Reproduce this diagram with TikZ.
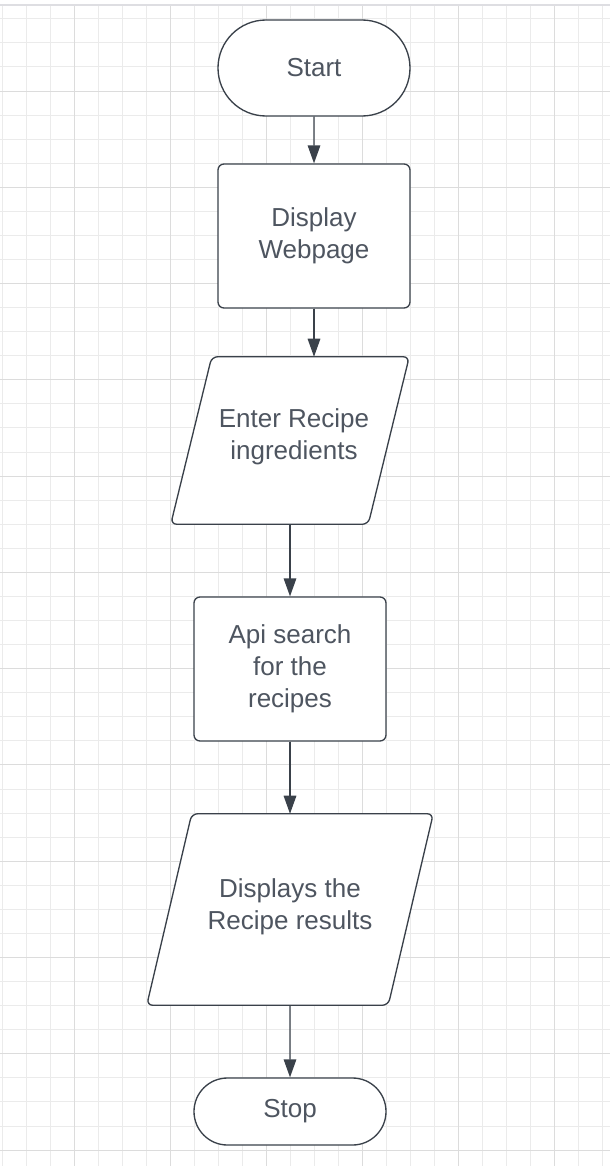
\documentclass[tikz,border=0pt]{standalone}
\usepackage{fontspec}
\setmainfont{Liberation Sans}
\usetikzlibrary{shapes.misc,arrows.meta,backgrounds}
\definecolor{gridminor}{HTML}{EBEBEB}
\definecolor{gridmajor}{HTML}{DCDCDC}
\definecolor{topband}{HTML}{DEDEE2}
\definecolor{strokec}{HTML}{3A414A}
\definecolor{txt}{HTML}{4E5560}
\newcommand{\flowfont}{\fontsize{19.5}{24}\selectfont}
\tikzset{
  terminal/.style={rounded rectangle, draw=strokec, line width=1pt, fill=white,
    minimum width=144pt, text=txt, font=\flowfont, align=center, inner sep=0pt},
  process/.style={rectangle, rounded corners=4.5pt, draw=strokec, line width=1pt, fill=white,
    minimum width=144pt, minimum height=108pt, text=txt, font=\flowfont, align=center, inner sep=0pt},
  iobox/.style={rectangle, inner sep=0pt},
  iotext/.style={inner sep=0pt, text=txt, font=\flowfont, align=center},
  iolines/.style={draw=strokec, line width=1pt, fill=white, rounded corners=4.5pt},
  flow/.style={draw=strokec, line width=1.1pt, -{Triangle[length=13.5pt,width=9.4pt]}},
}
\begin{document}
\begin{tikzpicture}[x=0.75pt,y=-0.75pt]
\useasboundingbox (0,0) rectangle (610,1166);
\begin{scope}[on background layer]
  \fill[white] (0,0) rectangle (610,1166);
  \begin{scope}
    \clip (0,6) rectangle (610,1166);
    \foreach \k in {0,...,25} \draw[gridminor, line width=0.75pt] ({2.5+24*\k},0) -- ++(0,1166);
    \foreach \k in {-3,...,45} \draw[gridminor, line width=0.75pt] (0,{floor(91+24.07*\k)+0.5}) -- ++(610,0);
    \foreach \k in {0,...,5} \draw[gridmajor, line width=0.75pt] ({74.5+96*\k},0) -- ++(0,1166);
    \foreach \k in {-1,...,11} \draw[gridmajor, line width=0.75pt] (0,{floor(91+24.07*4*\k)+0.5}) -- ++(610,0);
  \end{scope}
  \draw[topband, line width=1.5pt] (0,5) -- (610,5);
\end{scope}

\node[terminal, minimum height=72pt] (start) at (314,68) {Start};
\node[process] (web) at (314,236) {Display\\Webpage};
\node[iobox, minimum width=178.5pt, minimum height=125.25pt] (in1) at (290,440.5) {};
\node[process] (api) at (290,669) {Api search\\for the\\recipes};
\node[iobox, minimum width=214.5pt, minimum height=143.25pt] (out1) at (290,909.5) {};
\node[terminal, minimum height=50.25pt] (stop) at (290,1111.5) {Stop};

\begin{scope}[on background layer]
  \draw[iolines] ([shift={(41,0)}]in1.north west) -- (in1.north east)
    -- ([shift={(-41,0)}]in1.south east) -- (in1.south west) -- cycle;
  \draw[iolines] ([shift={(45,0)}]out1.north west) -- (out1.north east)
    -- ([shift={(-45,0)}]out1.south east) -- (out1.south west) -- cycle;
\end{scope}
\node[iotext] (in1text) at (294,437) {Enter Recipe\\ingredients};
\node[iotext] (out1text) at (290,906.5) {Displays the\\Recipe results};

\draw[flow] (start) -- (web);
\draw[flow] (web.south) -- (web.south |- in1.north);
\draw[flow] (in1) -- (api);
\draw[flow] (api) -- (out1);
\draw[flow] (out1) -- (stop);
\end{tikzpicture}
\end{document}
